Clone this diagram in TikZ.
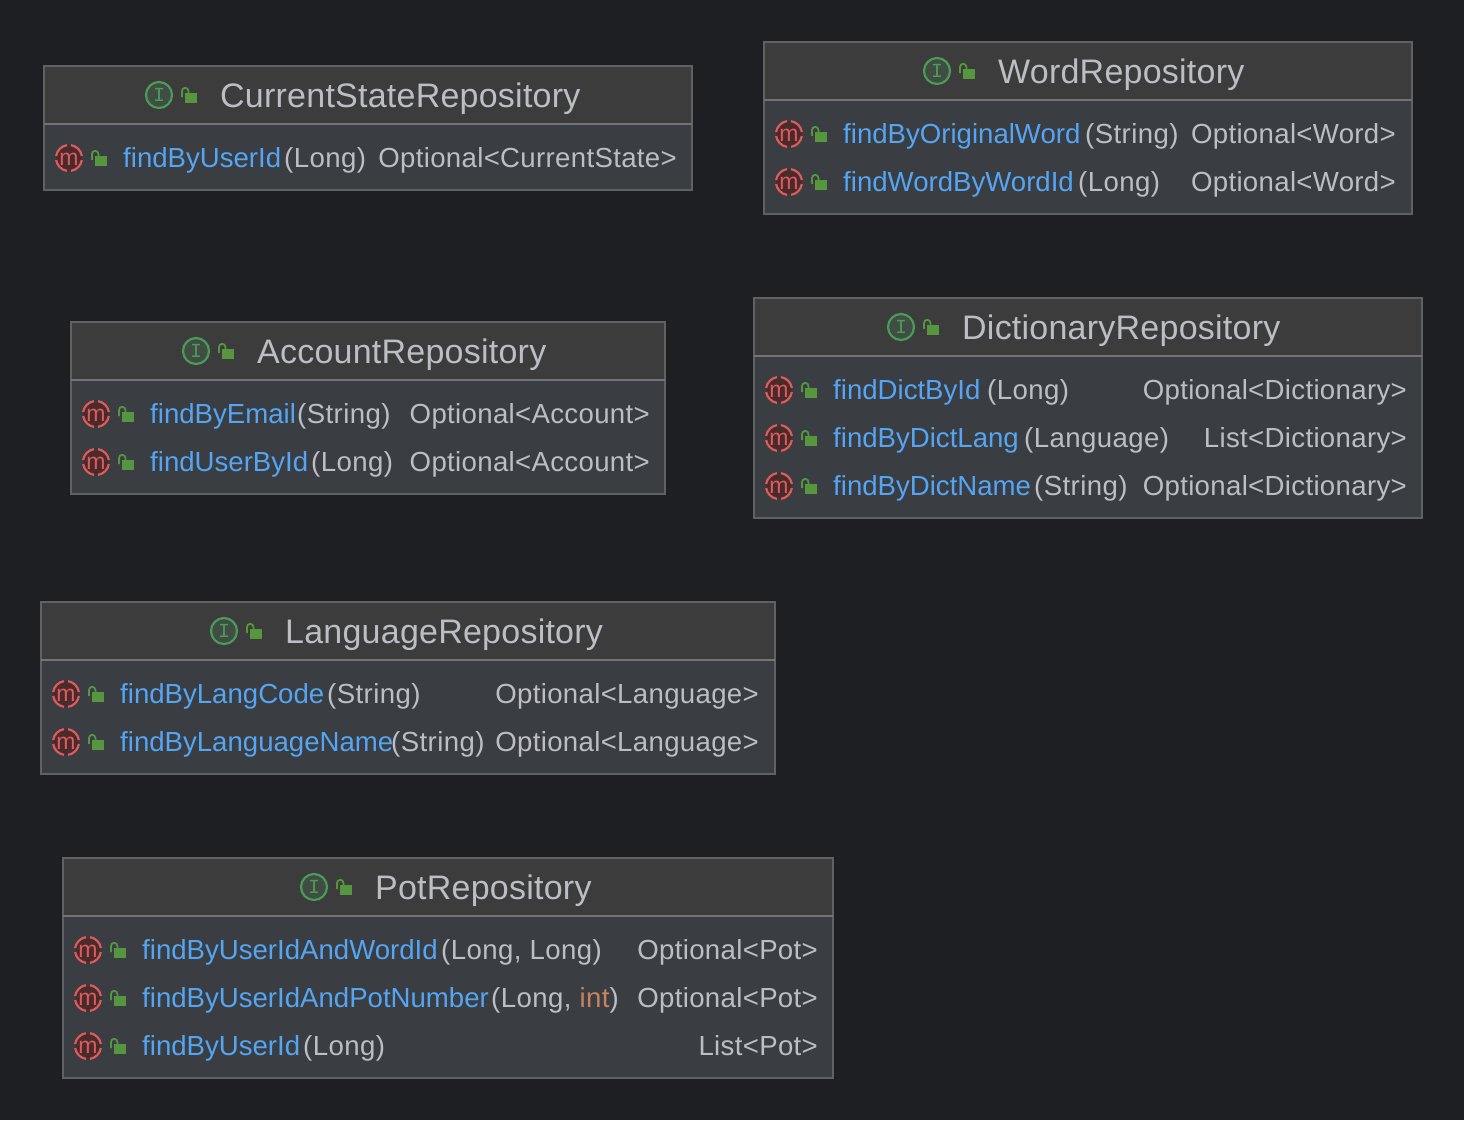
\documentclass[tikz,border=0pt]{standalone}
\usepackage{fontspec}
\setmainfont{Liberation Sans}
\newfontfamily\monoglyph{Liberation Mono}
\newfontfamily\titleface[LetterSpace=0.7]{Liberation Sans}
\newfontfamily\paramface[LetterSpace=1.5]{Liberation Sans}
\newfontfamily\typeface[LetterSpace=1.2]{Liberation Sans}
\usetikzlibrary{positioning}
\definecolor{pagebg}{HTML}{1E1F22}
\definecolor{titlebg}{HTML}{3C3C3D}
\definecolor{bodybg}{HTML}{3A3D41}
\definecolor{frameline}{HTML}{606163}
\definecolor{splitline}{HTML}{747475}
\definecolor{methodblue}{HTML}{54A5F3}
\definecolor{plaintext}{HTML}{BCBEC4}
\definecolor{keywordtext}{HTML}{C7835F}
\definecolor{ifacegreen}{HTML}{4C9A58}
\definecolor{lockgreen}{HTML}{55963F}
\definecolor{methodred}{HTML}{DB5C5C}
\definecolor{methoddark}{HTML}{4B2A2C}
\tikzset{%
  titlebar/.style={rectangle, draw=frameline, line width=1.2pt, fill=titlebg, anchor=north west, minimum height=58pt, outer sep=0pt},
  bodybar/.style={rectangle, draw=frameline, line width=1.2pt, fill=bodybg, anchor=north, outer sep=0pt},
  splitedge/.style={draw=splitline, line width=2pt},
  titletext/.style={anchor=west, inner sep=0pt, text=plaintext, font=\titleface\fontsize{34}{36}\selectfont, text height=32pt, text depth=7pt},
  nametext/.style={anchor=west, inner sep=0pt, text=methodblue, font=\fontsize{27.6}{30}\selectfont, text height=24pt, text depth=6pt},
  paramtext/.style={nametext, text=plaintext, font=\paramface\fontsize{27.6}{30}\selectfont},
  typetext/.style={paramtext, anchor=east, font=\typeface\fontsize{27.6}{30}\selectfont},
  ifaceicon/.pic={
    \draw [ifacegreen, line width=2.2pt, fill=ifacegreen!18!titlebg] (0,0) circle (13pt);
    \node [inner sep=0pt, text=ifacegreen, font=\monoglyph\fontsize{20}{20}\selectfont] (-glyph) at (0,0) {I};
  },
  lockicon/.pic={
    \fill [lockgreen] (-4.5,-2) rectangle (8,8);
    \draw [lockgreen, line width=1.8pt] (-7,2) -- (-7,-4) arc [start angle=180, end angle=0, radius=3.2pt] -- (-0.6,-2);
  },
  methodicon/.pic={
    \fill [methoddark] (0,0) circle (13pt);
    \foreach \a in {0,90,180,270}
      \draw [methodred, line width=2.2pt] (\a+9:13pt) arc [start angle=\a+9, end angle=\a+81, radius=13pt];
    \node [inner sep=0pt, text=methodred, font=\fontsize{23}{23}\selectfont] (-glyph) at (0,1) {m};
  }
}

\begin{document}
\begin{tikzpicture}[x=1pt, y=-1pt]
  \useasboundingbox [fill=pagebg] (0,0) rectangle (1464,1120);

  % current state
  \node [titlebar, minimum width=648pt] (cs) at (44,66) {};
  \node [bodybar, minimum width=648pt, minimum height=66pt] (csbody) at (cs.south) {};
  \draw [splitedge] (cs.south west) -- (cs.south east);
  \node [titletext] (cstitle) at (220,95) {CurrentStateRepository};
  \pic (csface) at (159,95) {ifaceicon};
  \pic (cslock) at (189,95) {lockicon};
  \pic (csm1) at (69,158) {methodicon};
  \pic (csl1) at (99,158) {lockicon};
  \node [nametext] (csn1) at (123,158) {findByUserId};
  \node [paramtext] (csp1) at (284,158) {(Long)};
  \node [typetext] (cst1) at (677,158) {Optional<CurrentState>};

  % word
  \node [titlebar, minimum width=648pt] (wd) at (764,42) {};
  \node [bodybar, minimum width=648pt, minimum height=114pt] (wdbody) at (wd.south) {};
  \draw [splitedge] (wd.south west) -- (wd.south east);
  \node [titletext] (wdtitle) at (998,71) {WordRepository};
  \pic (wdface) at (937,71) {ifaceicon};
  \pic (wdlock) at (967,71) {lockicon};
  \pic (wdm1) at (789,134) {methodicon};
  \pic (wdl1) at (819,134) {lockicon};
  \node [nametext] (wdn1) at (843,134) {findByOriginalWord};
  \node [paramtext] (wdp1) at (1085,134) {(String)};
  \node [typetext] (wdt1) at (1396,134) {Optional<Word>};
  \pic (wdm2) at (789,182) {methodicon};
  \pic (wdl2) at (819,182) {lockicon};
  \node [nametext] (wdn2) at (843,182) {findWordByWordId};
  \node [paramtext] (wdp2) at (1078,182) {(Long)};
  \node [typetext] (wdt2) at (1396,182) {Optional<Word>};

  % account
  \node [titlebar, minimum width=594pt] (ac) at (71,322) {};
  \node [bodybar, minimum width=594pt, minimum height=114pt] (acbody) at (ac.south) {};
  \draw [splitedge] (ac.south west) -- (ac.south east);
  \node [titletext] (actitle) at (257,351) {AccountRepository};
  \pic (acface) at (196,351) {ifaceicon};
  \pic (aclock) at (226,351) {lockicon};
  \pic (acm1) at (96,414) {methodicon};
  \pic (acl1) at (126,414) {lockicon};
  \node [nametext] (acn1) at (150,414) {findByEmail};
  \node [paramtext] (acp1) at (297,414) {(String)};
  \node [typetext] (act1) at (650,414) {Optional<Account>};
  \pic (acm2) at (96,462) {methodicon};
  \pic (acl2) at (126,462) {lockicon};
  \node [nametext] (acn2) at (150,462) {findUserById};
  \node [paramtext] (acp2) at (311,462) {(Long)};
  \node [typetext] (act2) at (650,462) {Optional<Account>};

  % dictionary
  \node [titlebar, minimum width=668pt] (di) at (754,298) {};
  \node [bodybar, minimum width=668pt, minimum height=162pt] (dibody) at (di.south) {};
  \draw [splitedge] (di.south west) -- (di.south east);
  \node [titletext] (dititle) at (962,327) {DictionaryRepository};
  \pic (diface) at (901,327) {ifaceicon};
  \pic (dilock) at (931,327) {lockicon};
  \pic (dim1) at (779,390) {methodicon};
  \pic (dil1) at (809,390) {lockicon};
  \node [nametext] (din1) at (833,390) {findDictById};
  \node [paramtext] (dip1) at (987,390) {(Long)};
  \node [typetext] (dit1) at (1407,390) {Optional<Dictionary>};
  \pic (dim2) at (779,438) {methodicon};
  \pic (dil2) at (809,438) {lockicon};
  \node [nametext] (din2) at (833,438) {findByDictLang};
  \node [paramtext] (dip2) at (1024,438) {(Language)};
  \node [typetext] (dit2) at (1407,438) {List<Dictionary>};
  \pic (dim3) at (779,486) {methodicon};
  \pic (dil3) at (809,486) {lockicon};
  \node [nametext] (din3) at (833,486) {findByDictName};
  \node [paramtext] (dip3) at (1034,486) {(String)};
  \node [typetext] (dit3) at (1407,486) {Optional<Dictionary>};

  % language
  \node [titlebar, minimum width=734pt] (la) at (41,602) {};
  \node [bodybar, minimum width=734pt, minimum height=114pt] (labody) at (la.south) {};
  \draw [splitedge] (la.south west) -- (la.south east);
  \node [titletext] (latitle) at (285,631) {LanguageRepository};
  \pic (laface) at (224,631) {ifaceicon};
  \pic (lalock) at (254,631) {lockicon};
  \pic (lam1) at (66,694) {methodicon};
  \pic (lal1) at (96,694) {lockicon};
  \node [nametext] (lan1) at (120,694) {findByLangCode};
  \node [paramtext] (lap1) at (327,694) {(String)};
  \node [typetext] (lat1) at (759,694) {Optional<Language>};
  \pic (lam2) at (66,742) {methodicon};
  \pic (lal2) at (96,742) {lockicon};
  \node [nametext] (lan2) at (120,742) {findByLanguageName};
  \node [paramtext] (lap2) at (391,742) {(String)};
  \node [typetext] (lat2) at (759,742) {Optional<Language>};

  % pot
  \node [titlebar, minimum width=770pt] (po) at (63,858) {};
  \node [bodybar, minimum width=770pt, minimum height=162pt] (pobody) at (po.south) {};
  \draw [splitedge] (po.south west) -- (po.south east);
  \node [titletext] (potitle) at (375,887) {PotRepository};
  \pic (poface) at (314,887) {ifaceicon};
  \pic (polock) at (344,887) {lockicon};
  \pic (pom1) at (88,950) {methodicon};
  \pic (pol1) at (118,950) {lockicon};
  \node [nametext] (pon1) at (142,950) {findByUserIdAndWordId};
  \node [paramtext] (pop1) at (441,950) {(Long, Long)};
  \node [typetext] (pot1) at (818,950) {Optional<Pot>};
  \pic (pom2) at (88,998) {methodicon};
  \pic (pol2) at (118,998) {lockicon};
  \node [nametext] (pon2) at (142,998) {findByUserIdAndPotNumber};
  \node [paramtext] (pop2) at (491,998) {(Long, \textcolor{keywordtext}{int})};
  \node [typetext] (pot2) at (818,998) {Optional<Pot>};
  \pic (pom3) at (88,1046) {methodicon};
  \pic (pol3) at (118,1046) {lockicon};
  \node [nametext] (pon3) at (142,1046) {findByUserId};
  \node [paramtext] (pop3) at (303,1046) {(Long)};
  \node [typetext] (pot3) at (818,1046) {List<Pot>};
\end{tikzpicture}
\end{document}
